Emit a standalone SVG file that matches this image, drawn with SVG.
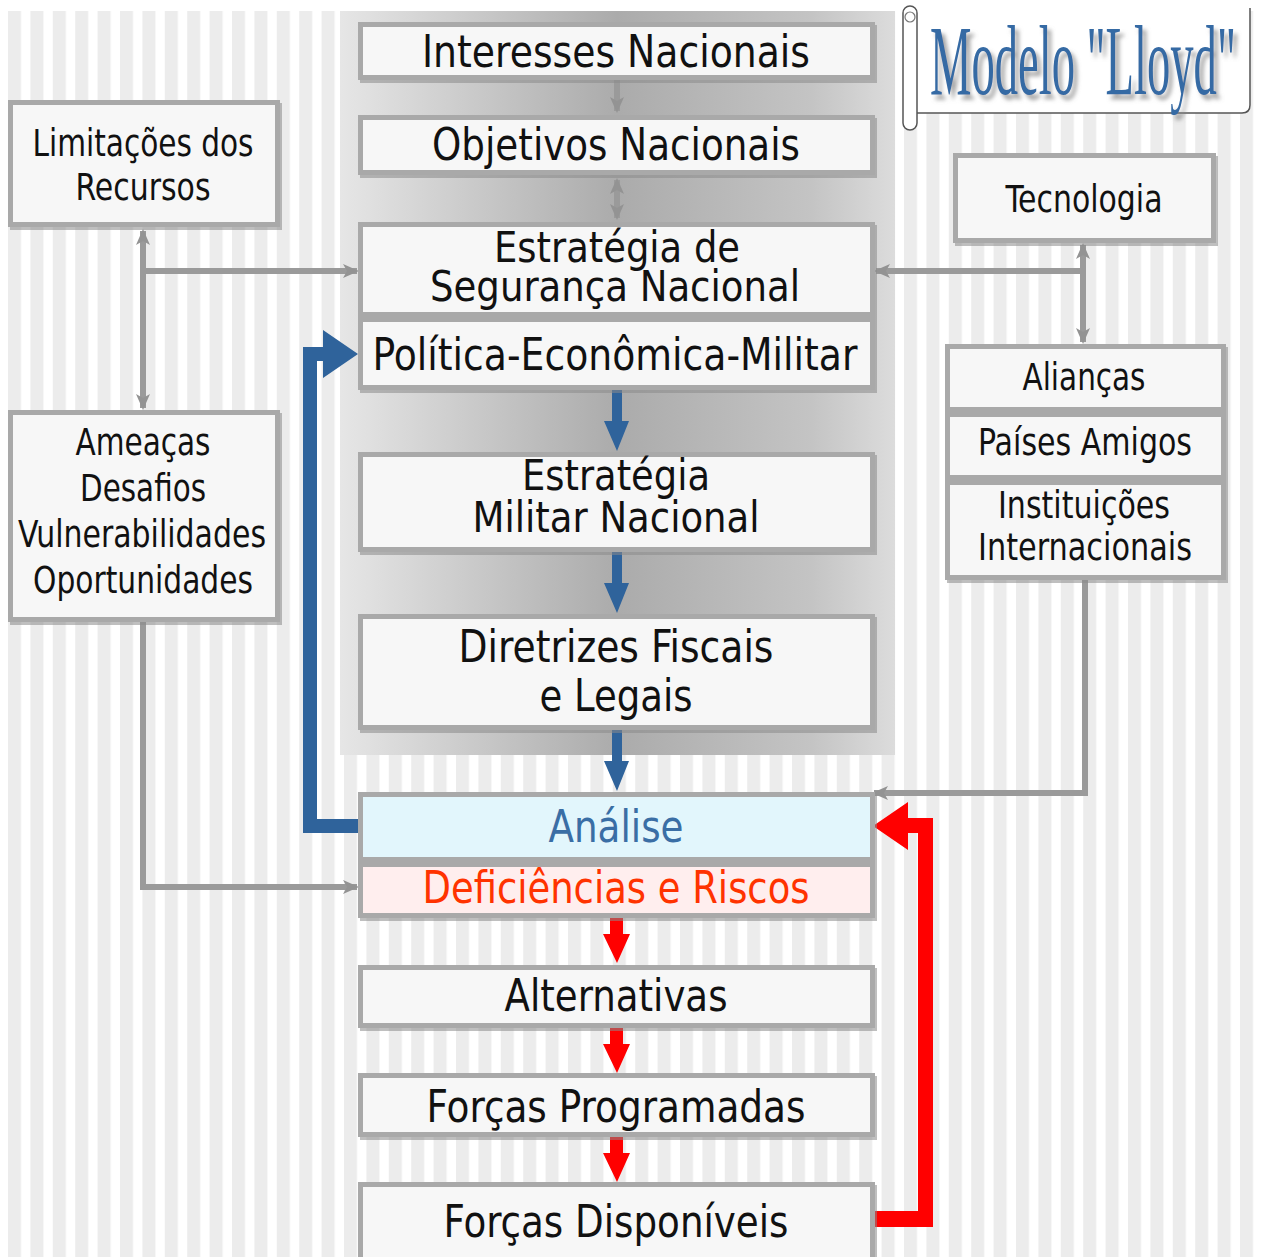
<svg xmlns="http://www.w3.org/2000/svg" width="1263" height="1257" viewBox="0 0 1263 1257">
  <defs>
    <pattern id="stripes" x="8" y="0" width="22.4" height="20" patternUnits="userSpaceOnUse">
      <rect x="0" y="0" width="22.4" height="20" fill="#ffffff"/>
      <rect x="0" y="0" width="13" height="20" fill="#ececec"/>
    </pattern>
    <linearGradient id="panelGrad" x1="0" y1="0" x2="1" y2="0">
      <stop offset="0" stop-color="#e6e6e6"/>
      <stop offset="0.5" stop-color="#ababab"/>
      <stop offset="0.85" stop-color="#c4c4c4"/>
      <stop offset="1" stop-color="#dcdcdc"/>
    </linearGradient>
    <!-- title drop shadow, in the horizontally squeezed text space -->
    <filter id="titleShadow" x="-5%" y="-10%" width="110%" height="130%">
      <feGaussianBlur in="SourceAlpha" stdDeviation="4 2" result="b"/>
      <feOffset in="b" dx="9" dy="5" result="o"/>
      <feFlood flood-color="#8c8c8c" flood-opacity="0.8"/>
      <feComposite in2="o" operator="in" result="s"/>
      <feMerge>
        <feMergeNode in="s"/>
        <feMergeNode in="SourceGraphic"/>
      </feMerge>
    </filter>
    <marker id="gh" viewBox="0 0 16 16" refX="14" refY="8" markerWidth="16" markerHeight="16" markerUnits="userSpaceOnUse" orient="auto-start-reverse">
      <path d="M0,1 L16,8 L0,15 L4,8 Z" fill="#939393"/>
    </marker>
    <style>
      .box { fill: #f7f7f7; stroke: #a9a9a9; stroke-width: 5; }
      .shadow { fill: #8a8a8a; opacity: 0.55; }
      .t { font-family: "DejaVu Sans Condensed", "DejaVu Sans", sans-serif; fill: #111; text-anchor: middle; }
      .big { font-size: 44px; }
      .tight { font-size: 42px; }
      .side { font-size: 37px; }
      .gline { fill: none; stroke: #9a9a9a; stroke-width: 6; }
      .blue { fill: #2f639b; }
      .red { fill: #ff0000; }
    </style>
  </defs>

  <!-- page background -->
  <rect x="0" y="0" width="1263" height="1257" fill="#ffffff"/>
  <rect x="8" y="11" width="1250" height="1246" fill="url(#stripes)"/>

  <!-- central strategy panel -->
  <rect x="340" y="11" width="555" height="744" fill="url(#panelGrad)"/>

  <!-- title scroll -->
  <g id="title">
    <path d="M915,0 L1250,0 L1250,105 Q1250,113 1242,113 L915,113 Z" fill="#ffffff"/>
    <path d="M1250,8 L1250,105 Q1250,113 1242,113 L915,113" fill="none" stroke="#555" stroke-width="1.5"/>
    <rect x="903" y="6" width="14" height="124" rx="7" fill="#ffffff" stroke="#555" stroke-width="1.5"/>
    <circle cx="910" cy="17" r="5" fill="none" stroke="#777" stroke-width="1.2"/>
    <text transform="translate(930,94) scale(0.466,1)" x="0" y="0" font-family="Liberation Serif, serif" font-size="100" fill="#356aa4" filter="url(#titleShadow)">Modelo "Lloyd"</text>
  </g>

  <!-- connectors -->
  <g id="connectors">
    <!-- grey links -->
    <line class="gline" x1="617" y1="80" x2="617" y2="111" marker-end="url(#gh)" stroke-width="7"/>
    <line class="gline" x1="617" y1="180" x2="617" y2="218" marker-start="url(#gh)" marker-end="url(#gh)" stroke-width="7"/>
    <line class="gline" x1="143" y1="231" x2="143" y2="408" marker-start="url(#gh)" marker-end="url(#gh)"/>
    <line class="gline" x1="143" y1="271" x2="357" y2="271" marker-end="url(#gh)"/>
    <polyline class="gline" points="143,622 143,887 357,887" marker-end="url(#gh)"/>
    <line class="gline" x1="1083" y1="245" x2="1083" y2="342" marker-start="url(#gh)" marker-end="url(#gh)"/>
    <line class="gline" x1="1083" y1="271" x2="876" y2="271" marker-end="url(#gh)"/>
    <polyline class="gline" points="1085,580 1085,793 874,793" marker-end="url(#gh)"/>

    <!-- blue flow -->
    <path class="blue" d="M612,390 L622,390 L622,421 L629,421 L617,451 L604,421 L612,421 Z"/>
    <path class="blue" d="M612,552 L622,552 L622,583 L629,583 L617,613 L604,583 L612,583 Z"/>
    <path class="blue" d="M612,730 L622,730 L622,761 L629,761 L617,791 L604,761 L612,761 Z"/>
    <path class="blue" d="M360,819 L360,833 L303,833 L303,347 L323,347 L323,330 L358,354 L323,378 L323,361 L317,361 L317,819 Z"/>

    <!-- red flow -->
    <path class="red" d="M610,918 L623,918 L623,934 L630,934 L617,963 L603,934 L610,934 Z"/>
    <path class="red" d="M610,1028 L623,1028 L623,1044 L630,1044 L617,1073 L603,1044 L610,1044 Z"/>
    <path class="red" d="M610,1137 L623,1137 L623,1153 L630,1153 L617,1182 L603,1153 L610,1153 Z"/>
    <path class="red" d="M874,1211 L918,1211 L918,833 L908,833 L908,850 L873,826 L908,802 L908,818 L933,818 L933,1227 L874,1227 Z"/>
  </g>

  <!-- central column -->
  <g id="interesses">
    <rect class="shadow" x="360" y="25" width="517" height="58"/>
    <rect class="box" x="360.5" y="24.5" width="512" height="53"/>
    <text class="t big" x="616" y="67" textLength="388" lengthAdjust="spacingAndGlyphs">Interesses Nacionais</text>
  </g>
  <g id="objetivos">
    <rect class="shadow" x="360" y="118" width="517" height="60"/>
    <rect class="box" x="360.5" y="117.5" width="512" height="55"/>
    <text class="t big" x="616" y="160" textLength="368" lengthAdjust="spacingAndGlyphs">Objetivos Nacionais</text>
  </g>
  <g id="estrategia-seguranca">
    <rect class="shadow" x="360" y="225" width="517" height="95"/>
    <rect class="box" x="360.5" y="224.5" width="512" height="90"/>
    <text class="t tight" x="617" y="262" textLength="246" lengthAdjust="spacingAndGlyphs">Estratégia de</text>
    <text class="t tight" x="615" y="301" textLength="370" lengthAdjust="spacingAndGlyphs">Segurança Nacional</text>
  </g>
  <g id="politica">
    <rect class="shadow" x="360" y="320" width="517" height="73"/>
    <rect class="box" x="360.5" y="319.5" width="512" height="68"/>
    <text class="t big" x="615" y="370" textLength="485" lengthAdjust="spacingAndGlyphs">Política-Econômica-Militar</text>
  </g>
  <g id="estrategia-militar">
    <rect class="shadow" x="360" y="455" width="517" height="100"/>
    <rect class="box" x="360.5" y="454.5" width="512" height="95"/>
    <text class="t tight" x="616" y="490" textLength="188" lengthAdjust="spacingAndGlyphs">Estratégia</text>
    <text class="t tight" x="616" y="532" textLength="287" lengthAdjust="spacingAndGlyphs">Militar Nacional</text>
  </g>
  <g id="diretrizes">
    <rect class="shadow" x="360" y="617" width="517" height="116"/>
    <rect class="box" x="360.5" y="616.5" width="512" height="111"/>
    <text class="t big" x="616" y="662" textLength="315" lengthAdjust="spacingAndGlyphs">Diretrizes Fiscais</text>
    <text class="t big" x="616" y="711" textLength="153" lengthAdjust="spacingAndGlyphs">e Legais</text>
  </g>
  <g id="analise">
    <rect class="shadow" x="360" y="795" width="517" height="70"/>
    <rect class="box" x="360.5" y="794.5" width="512" height="65" style="fill:#e2f6fc"/>
    <text class="t big" x="616" y="842" textLength="135" lengthAdjust="spacingAndGlyphs" style="fill:#3a6ea5">Análise</text>
  </g>
  <g id="deficiencias">
    <rect class="shadow" x="360" y="865" width="517" height="56"/>
    <rect class="box" x="360.5" y="864.5" width="512" height="51" style="fill:#ffeeee"/>
    <text class="t big" x="616" y="903" textLength="387" lengthAdjust="spacingAndGlyphs" style="fill:#ff3300">Deficiências e Riscos</text>
  </g>
  <g id="alternativas">
    <rect class="shadow" x="360" y="968" width="517" height="63"/>
    <rect class="box" x="360.5" y="967.5" width="512" height="58"/>
    <text class="t big" x="616" y="1011" textLength="223" lengthAdjust="spacingAndGlyphs">Alternativas</text>
  </g>
  <g id="forcas-programadas">
    <rect class="shadow" x="360" y="1076" width="517" height="64"/>
    <rect class="box" x="360.5" y="1075.5" width="512" height="59"/>
    <text class="t big" x="616" y="1122" textLength="379" lengthAdjust="spacingAndGlyphs">Forças Programadas</text>
  </g>
  <g id="forcas-disponiveis">
    <rect class="shadow" x="360" y="1185" width="517" height="75"/>
    <rect class="box" x="360.5" y="1184.5" width="512" height="80"/>
    <text class="t big" x="616" y="1237" textLength="345" lengthAdjust="spacingAndGlyphs">Forças Disponíveis</text>
  </g>

  <!-- left column -->
  <g id="limitacoes">
    <rect class="shadow" x="10" y="103" width="272" height="127"/>
    <rect class="box" x="10.5" y="102.5" width="267" height="122"/>
    <text class="t side" x="143" y="156" textLength="221" lengthAdjust="spacingAndGlyphs">Limitações dos</text>
    <text class="t side" x="143" y="200" textLength="135" lengthAdjust="spacingAndGlyphs">Recursos</text>
  </g>
  <g id="ameacas">
    <rect class="shadow" x="10" y="413" width="272" height="212"/>
    <rect class="box" x="10.5" y="412.5" width="267" height="207"/>
    <text class="t side" x="143" y="455" textLength="135" lengthAdjust="spacingAndGlyphs">Ameaças</text>
    <text class="t side" x="143" y="501" textLength="126" lengthAdjust="spacingAndGlyphs">Desafios</text>
    <text class="t side" x="142" y="547" textLength="248" lengthAdjust="spacingAndGlyphs">Vulnerabilidades</text>
    <text class="t side" x="143" y="593" textLength="220" lengthAdjust="spacingAndGlyphs">Oportunidades</text>
  </g>

  <!-- right column -->
  <g id="tecnologia">
    <rect class="shadow" x="955" y="156" width="263" height="90"/>
    <rect class="box" x="955.5" y="155.5" width="258" height="85"/>
    <text class="t side" x="1084" y="212" textLength="157" lengthAdjust="spacingAndGlyphs">Tecnologia</text>
  </g>
  <g id="aliancas">
    <rect class="shadow" x="947" y="347" width="281" height="68"/>
    <rect class="box" x="947.5" y="346.5" width="276" height="63"/>
    <text class="t side" x="1084" y="390" textLength="123" lengthAdjust="spacingAndGlyphs">Alianças</text>
  </g>
  <g id="paises-amigos">
    <rect class="shadow" x="947" y="415" width="281" height="68"/>
    <rect class="box" x="947.5" y="414.5" width="276" height="63"/>
    <text class="t side" x="1085" y="455" textLength="214" lengthAdjust="spacingAndGlyphs">Países Amigos</text>
  </g>
  <g id="instituicoes">
    <rect class="shadow" x="947" y="483" width="281" height="100"/>
    <rect class="box" x="947.5" y="482.5" width="276" height="95"/>
    <text class="t side" x="1084" y="518" textLength="172" lengthAdjust="spacingAndGlyphs">Instituições</text>
    <text class="t side" x="1085" y="560" textLength="214" lengthAdjust="spacingAndGlyphs">Internacionais</text>
  </g>
</svg>
